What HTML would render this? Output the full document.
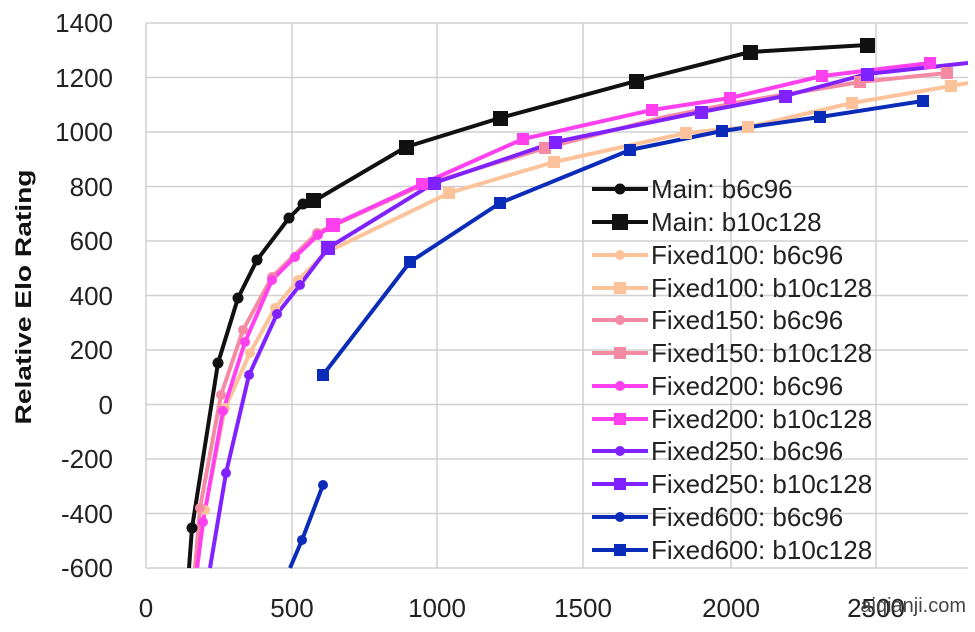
<!DOCTYPE html>
<html><head><meta charset="utf-8"><style>
body{margin:0;background:#fff}
svg text{font-family:"Liberation Sans",sans-serif}
</style></head><body>
<svg width="975" height="627" viewBox="0 0 975 627" xmlns="http://www.w3.org/2000/svg">
<defs><clipPath id="c"><rect x="146" y="18" width="822" height="551"/></clipPath></defs>
<g stroke="#d0d0d0" stroke-width="1.5">
<line x1="146" y1="23" x2="968" y2="23"/><line x1="146" y1="77.5" x2="968" y2="77.5"/><line x1="146" y1="132" x2="968" y2="132"/><line x1="146" y1="186.5" x2="968" y2="186.5"/><line x1="146" y1="241" x2="968" y2="241"/><line x1="146" y1="295.5" x2="968" y2="295.5"/><line x1="146" y1="350" x2="968" y2="350"/><line x1="146" y1="404.5" x2="968" y2="404.5"/><line x1="146" y1="459" x2="968" y2="459"/><line x1="146" y1="513.5" x2="968" y2="513.5"/><line x1="146" y1="568" x2="968" y2="568"/>
<line x1="146" y1="23" x2="146" y2="568"/><line x1="292" y1="23" x2="292" y2="568"/><line x1="437" y1="23" x2="437" y2="568"/><line x1="583" y1="23" x2="583" y2="568"/><line x1="731" y1="23" x2="731" y2="568"/><line x1="876" y1="23" x2="876" y2="568"/>
</g>
<g font-size="26" fill="#222" text-anchor="end">
<text x="113" y="32">1400</text><text x="113" y="87">1200</text><text x="113" y="141">1000</text><text x="113" y="196">800</text><text x="113" y="250">600</text><text x="113" y="305">400</text><text x="113" y="359">200</text><text x="113" y="414">0</text><text x="113" y="468">-200</text><text x="113" y="523">-400</text><text x="113" y="577">-600</text>
</g>
<g font-size="26" fill="#222" text-anchor="middle">
<text x="146" y="617">0</text><text x="292" y="617">500</text><text x="437" y="617">1000</text><text x="583" y="617">1500</text><text x="731" y="617">2000</text><text x="876" y="617">2500</text>
</g>
<text transform="translate(31,297) rotate(-90)" font-size="22" font-weight="bold" text-anchor="middle" fill="#111" textLength="255" lengthAdjust="spacingAndGlyphs">Relative Elo Rating</text>
<g clip-path="url(#c)" fill="none" stroke-width="4" stroke-linejoin="round">
<polyline stroke="#fcc39a" points="197,568 205,510 225,408 250,353 275,308 298,280 327,252 449,193 554,162 686,133 748,127 852,103 951,86 968,83"/>
<polyline stroke="#f58aa3" points="195,568 200,508 221,395 243,330 272,277 317,233 420,186 545,148 660,118 740,102 860,82 947,73"/>
<polyline stroke="#ff40ef" points="197,568 203,522 223,411 245,342 272,280 295,257 318,235 333,225 422,184 523,139 652,110 730,98 822,76 930,63"/>
<polyline stroke="#8022ff" points="210,568 226,473 249,375 277,314 300,285 328,248 434,183 555,142 701,112 785,96 867,74 968,63"/>
<polyline stroke="#0a2cb8" points="290,568 302,540 323,485"/>
<polyline stroke="#0a2cb8" points="323,375 410,262 500,203 630,150 722,131 820,117 923,101"/>
<polyline stroke="#111" points="189,568 192,528 218,363 238,298 257,260 289,218 303,204 314,201 406,147 500,118 636,81 750,52 867,45"/>
</g>
<g clip-path="url(#c)">
<g fill="#fcc39a"><circle cx="205" cy="510" r="5"/><circle cx="225" cy="408" r="5"/><circle cx="250" cy="353" r="5"/><circle cx="275" cy="308" r="5"/><circle cx="298" cy="280" r="5"/><rect x="443" y="187" width="12" height="12"/><rect x="548" y="156" width="12" height="12"/><rect x="680" y="127" width="12" height="12"/><rect x="742" y="121" width="12" height="12"/><rect x="846" y="97" width="12" height="12"/><rect x="945" y="80" width="12" height="12"/></g>
<g fill="#f58aa3"><circle cx="200" cy="508" r="5"/><circle cx="221" cy="395" r="5"/><circle cx="243" cy="330" r="5"/><circle cx="272" cy="277" r="5"/><circle cx="317" cy="233" r="5"/><rect x="539" y="142" width="12" height="12"/><rect x="854" y="76" width="12" height="12"/><rect x="941" y="67" width="12" height="12"/></g>
<g fill="#ff40ef"><circle cx="203" cy="522" r="5"/><circle cx="223" cy="411" r="5"/><circle cx="245" cy="342" r="5"/><circle cx="272" cy="280" r="5"/><circle cx="295" cy="257" r="5"/><circle cx="318" cy="235" r="5"/><rect x="326" y="218" width="14" height="14"/><rect x="416" y="178" width="12" height="12"/><rect x="517" y="133" width="12" height="12"/><rect x="646" y="104" width="12" height="12"/><rect x="724" y="92" width="12" height="12"/><rect x="816" y="70" width="12" height="12"/><rect x="924" y="57" width="12" height="12"/></g>
<g fill="#8022ff"><circle cx="226" cy="473" r="5"/><circle cx="249" cy="375" r="5"/><circle cx="277" cy="314" r="5"/><circle cx="300" cy="285" r="5"/><rect x="321" y="241" width="14" height="14"/><rect x="428" y="177" width="13" height="13"/><rect x="549" y="136" width="13" height="13"/><rect x="695" y="106" width="13" height="13"/><rect x="779" y="90" width="13" height="13"/><rect x="861" y="68" width="13" height="13"/></g>
<g fill="#0a2cb8"><circle cx="302" cy="540" r="5"/><circle cx="323" cy="485" r="5"/><rect x="317" y="369" width="12" height="12"/><rect x="404" y="256" width="12" height="12"/><rect x="494" y="197" width="12" height="12"/><rect x="624" y="144" width="12" height="12"/><rect x="716" y="125" width="12" height="12"/><rect x="814" y="111" width="12" height="12"/><rect x="917" y="95" width="12" height="12"/></g>
<g fill="#111"><circle cx="192" cy="528" r="5.5"/><circle cx="218" cy="363" r="5.5"/><circle cx="238" cy="298" r="5.5"/><circle cx="257" cy="260" r="5.5"/><circle cx="289" cy="218" r="5.5"/><circle cx="303" cy="204" r="5.5"/><rect x="306" y="193" width="15" height="15"/><rect x="399" y="140" width="15" height="15"/><rect x="493" y="111" width="15" height="15"/><rect x="629" y="74" width="15" height="15"/><rect x="743" y="45" width="15" height="15"/><rect x="860" y="38" width="15" height="15"/></g>
</g>
<g stroke-width="4">
<line x1="592" y1="189" x2="648" y2="189" stroke="#111"/>
<line x1="592" y1="222" x2="648" y2="222" stroke="#111"/>
<line x1="592" y1="255" x2="648" y2="255" stroke="#fcc39a"/>
<line x1="592" y1="288" x2="648" y2="288" stroke="#fcc39a"/>
<line x1="592" y1="320" x2="648" y2="320" stroke="#f58aa3"/>
<line x1="592" y1="353" x2="648" y2="353" stroke="#f58aa3"/>
<line x1="592" y1="386" x2="648" y2="386" stroke="#ff40ef"/>
<line x1="592" y1="419" x2="648" y2="419" stroke="#ff40ef"/>
<line x1="592" y1="451" x2="648" y2="451" stroke="#8022ff"/>
<line x1="592" y1="484" x2="648" y2="484" stroke="#8022ff"/>
<line x1="592" y1="517" x2="648" y2="517" stroke="#0a2cb8"/>
<line x1="592" y1="550" x2="648" y2="550" stroke="#0a2cb8"/>
</g>
<circle cx="620" cy="189" r="5.5" fill="#111"/><rect x="612" y="214" width="16" height="16" fill="#111"/>
<circle cx="620" cy="255" r="5" fill="#fcc39a"/><rect x="614" y="282" width="12" height="12" fill="#fcc39a"/>
<circle cx="620" cy="320" r="5" fill="#f58aa3"/><rect x="614" y="347" width="12" height="12" fill="#f58aa3"/>
<circle cx="620" cy="386" r="5" fill="#ff40ef"/><rect x="614" y="413" width="12" height="12" fill="#ff40ef"/>
<circle cx="620" cy="451" r="5" fill="#8022ff"/><rect x="614" y="478" width="12" height="12" fill="#8022ff"/>
<circle cx="620" cy="517" r="5" fill="#0a2cb8"/><rect x="614" y="544" width="12" height="12" fill="#0a2cb8"/>
<g font-size="26" fill="#222">
<text x="651" y="198">Main: b6c96</text>
<text x="651" y="231">Main: b10c128</text>
<text x="651" y="264">Fixed100: b6c96</text>
<text x="651" y="297">Fixed100: b10c128</text>
<text x="651" y="329">Fixed150: b6c96</text>
<text x="651" y="362">Fixed150: b10c128</text>
<text x="651" y="395">Fixed200: b6c96</text>
<text x="651" y="428">Fixed200: b10c128</text>
<text x="651" y="460">Fixed250: b6c96</text>
<text x="651" y="493">Fixed250: b10c128</text>
<text x="651" y="526">Fixed600: b6c96</text>
<text x="651" y="559">Fixed600: b10c128</text>
</g>
<text x="966" y="612" font-size="20" fill="#444" text-anchor="end">aiqianji.com</text>
</svg>
</body></html>
